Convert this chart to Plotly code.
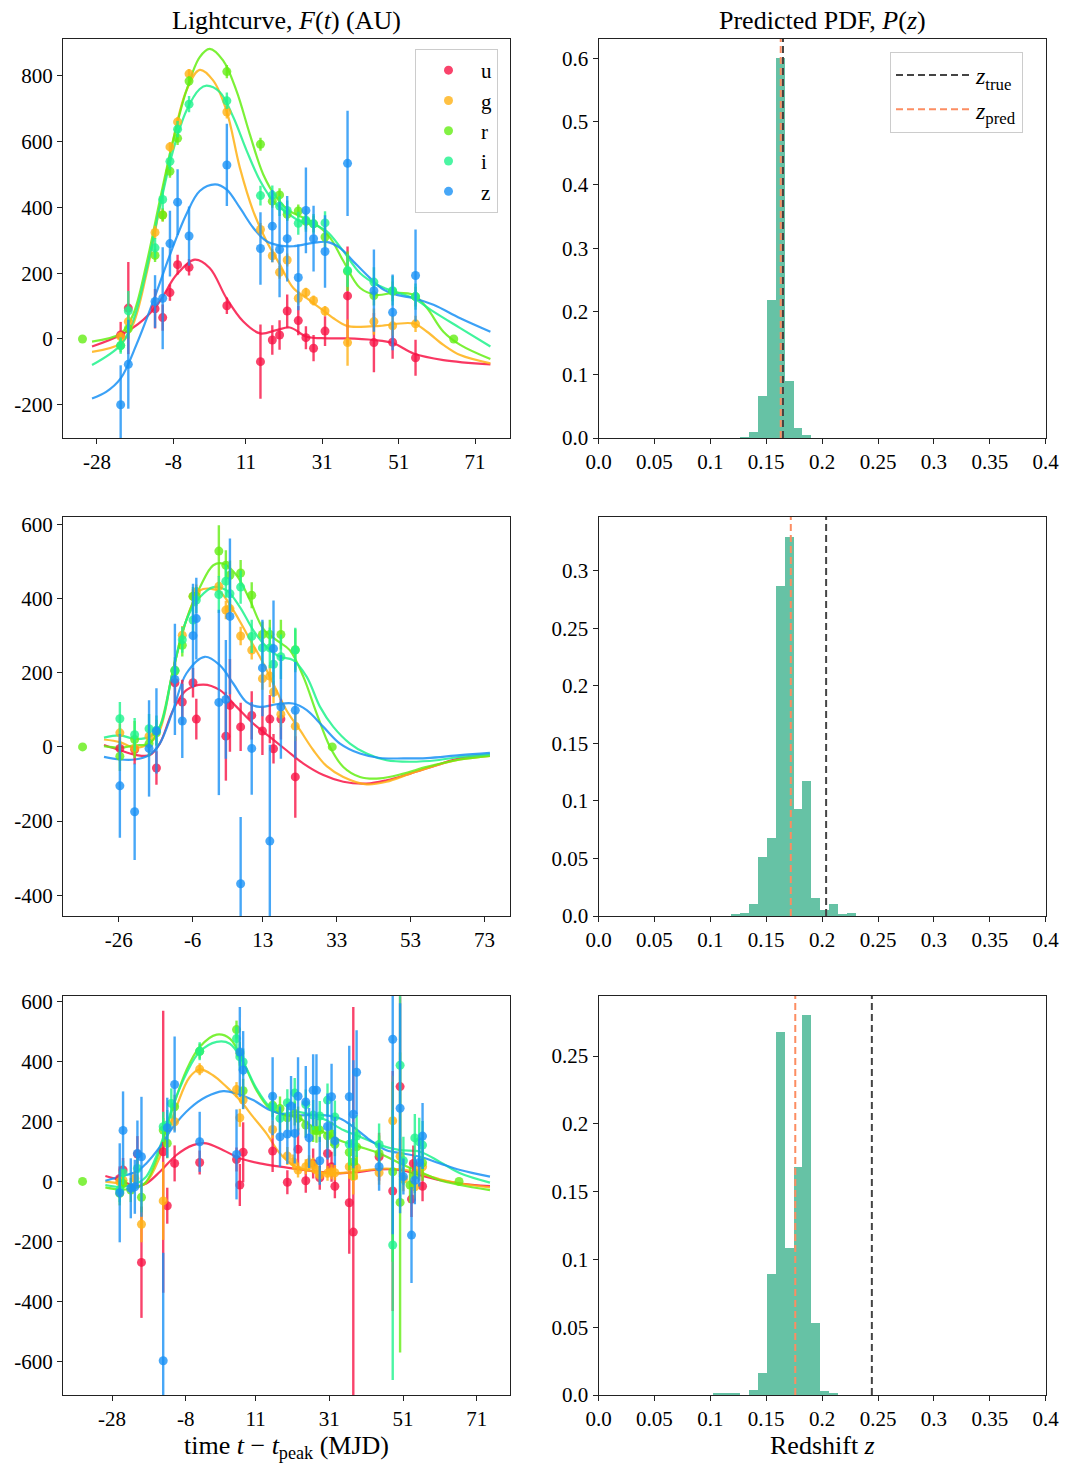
import plotly.graph_objects as go
from plotly.subplots import make_subplots

# ---------------- data ----------------
BANDS = ["u", "g", "r", "i", "z"]
BAND_COLORS = ["rgba(248,20,70,0.8)", "rgba(255,178,20,0.8)", "rgba(100,238,20,0.8)",
               "rgba(30,242,140,0.8)", "rgba(25,145,245,0.8)"]
LINE_COLORS = ["rgba(248,20,70,0.85)", "rgba(255,178,20,0.85)", "rgba(100,238,20,0.85)",
               "rgba(30,242,140,0.85)", "rgba(25,145,245,0.85)"]

# Panel 1 observations (t, flux, err)
P1_U = [(-21.8,12,40),(-19.8,94,140),(-12.8,92,60),(-10.8,65,40),(-8.9,141,25),(-6.9,226,30),(-3.9,218,25),
        (6.0,101,25),(14.8,-69,113),(17.9,-3,45),(19.8,12,45),(21.8,85,50),(24.7,56,45),(26.7,4,35),
        (28.7,-28,40),(31.7,24,45),(37.6,131,150),(44.5,-11,90),(49.4,-10,50),(55.4,-57,55)]
P1_G = [(-21.8,7,15),(-19.8,53,20),(-12.8,324,20),(-10.8,377,20),(-8.9,584,15),(-6.9,660,15),(-3.9,806,15),
        (6.0,690,20),(14.8,333,20),(17.9,253,20),(19.8,203,20),(21.8,240,20),(24.7,124,20),(26.7,141,15),
        (28.7,117,15),(31.7,85,15),(37.6,-11,70),(44.5,53,40),(49.4,40,30),(55.4,46,25)]
P1_R = [(-31.8,0,0),(-21.8,-20,20),(-19.8,31,30),(-12.8,254,20),(-10.8,377,20),(-8.9,510,20),(-6.9,610,20),
        (-3.9,784,15),(6.0,813,20),(14.8,592,20),(17.9,419,20),(19.8,438,20),(21.8,379,20),(24.7,389,20),
        (26.7,358,25),(28.7,350,25),(31.7,310,30),(37.6,206,60),(44.5,132,30),(49.4,145,30),(55.4,129,30),
        (65.4,0,0)]
P1_I = [(-21.8,-20,25),(-19.8,86,60),(-12.8,277,30),(-10.8,424,30),(-8.9,540,25),(-6.9,638,25),(-3.9,714,25),
        (6.0,724,25),(14.8,436,30),(17.9,437,30),(19.8,404,30),(21.8,391,30),(24.7,352,35),(26.7,361,35),
        (28.7,350,30),(31.7,353,35),(37.6,208,50),(44.5,173,45),(49.4,147,45),(55.4,129,40)]
P1_Z = [(-21.8,-200,120),(-19.8,-77,135),(-12.8,114,80),(-10.8,124,155),(-8.9,290,100),(-6.9,416,100),
        (-3.9,313,90),(6.0,529,125),(14.8,275,110),(17.9,343,110),(19.8,272,145),(21.8,305,130),
        (24.7,187,100),(26.7,391,130),(28.7,305,100),(31.7,266,110),(37.6,534,160),(44.5,147,125),
        (49.4,81,115),(55.4,193,140)]

# Panel 1 fitted curves (t, flux)
P1_U_FIT = [(-29.3,-23),(-21.8,12),(-15.9,58),(-11.6,114),(-7.2,195),(-2.4,241),(1.5,216),(5.9,124),(10.3,53),
            (14.7,17),(19.0,27),(22.5,35),(26.9,7),(32.1,2),(37.4,2),(44.4,-3),(49.6,-13),(54.9,-44),
            (62.7,-64),(75.0,-77)]
P1_G_FIT = [(-29.3,-39),(-21.8,-13),(-18.6,43),(-15.1,195),(-11.6,399),(-8.1,603),(-4.6,755),(-1.1,818),
            (2.4,786),(5.9,694),(9.4,521),(12.9,389),(16.4,297),(19.9,226),(23.4,155),(26.9,124),(30.4,94),
            (33.9,63),(37.4,40),(40.9,37),(46.1,40),(54.9,47),(58.4,22),(62.7,-18),(67.1,-49),(75.0,-74)]
P1_R_FIT = [(-29.3,-8),(-21.8,17),(-18.6,73),(-15.1,226),(-11.6,419),(-8.1,603),(-4.6,755),(-1.1,857),
            (1.5,882),(5.0,847),(8.5,755),(12.0,623),(15.5,501),(19.0,430),(22.5,389),(26.0,369),(29.5,348),
            (33.0,308),(36.5,237),(40.9,155),(45.3,134),(49.6,140),(54.9,134),(58.4,94),(62.7,22),
            (67.1,-18),(75.0,-61)]
P1_I_FIT = [(-29.3,-79),(-21.8,-18),(-18.6,53),(-15.1,206),(-11.6,399),(-8.1,572),(-4.6,694),(-1.1,760),
            (0.7,770),(4.2,750),(7.7,674),(11.2,572),(14.7,481),(18.2,419),(21.7,384),(25.1,358),(28.6,348),
            (32.1,328),(36.5,267),(40.9,200),(45.3,165),(49.6,145),(54.9,124),(60.1,83),(67.1,33),(75.0,-23)]
P1_Z_FIT = [(-29.3,-181),(-25.6,-161),(-21.8,-120),(-17.7,-18),(-13.3,114),(-8.9,256),(-4.6,379),(-1.1,450),
            (2.9,470),(5.9,455),(9.4,399),(12.9,338),(16.4,297),(19.9,284),(23.4,282),(28.6,292),(32.1,295),
            (35.6,277),(39.1,236),(43.5,185),(47.0,150),(50.5,134),(54.9,124),(60.1,104),(67.1,63),(75.0,22)]

# Panel 2 observations
P2_U = [(-25.7,-4,30),(-21.7,-7,40),(-15.8,-57,45),(-10.8,173,55),(-8.8,121,60),(-5.9,173,40),(-5.0,75,55),
        (3.0,29,120),(4.1,112,125),(7.0,54,65),(10.0,85,65),(12.9,43,65),(14.9,75,65),(15.9,-5,40),
        (17.9,75,55),(21.8,-81,110)]
P2_G = [(-25.7,38,25),(-21.7,-4,20),(-17.8,29,20),(-10.8,207,25),(-8.8,301,25),(-5.9,406,20),(-5.0,418,20),
        (1.1,433,25),(3.0,369,25),(4.1,373,25),(7.0,299,25),(10.0,261,25),(12.9,184,30),(14.9,191,30),
        (15.9,148,30),(17.9,88,35),(21.8,56,40)]
P2_R = [(-35.8,0,0),(-25.7,-25,40),(-21.7,20,50),(-17.8,9,35),(-15.8,38,35),(-10.8,204,30),(-8.8,274,30),
        (-5.9,406,25),(-5.0,406,25),(1.1,528,70),(3.0,490,40),(4.1,463,40),(7.0,469,35),(10.0,409,35),
        (12.9,303,35),(14.9,303,40),(17.9,303,40),(21.8,262,55),(31.8,0,0)]
P2_I = [(-25.7,76,45),(-21.7,33,45),(-17.8,49,40),(-15.8,45,40),(-10.8,207,35),(-8.8,289,35),(-5.9,342,35),
        (-5.0,396,35),(1.1,411,50),(3.0,447,45),(4.1,413,45),(7.0,431,45),(10.0,298,45),(12.9,267,50),
        (14.9,267,55),(15.9,223,55),(17.9,243,60),(21.8,261,60)]
P2_Z = [(-25.7,-105,140),(-21.7,-175,130),(-17.8,-4,130),(-15.8,43,115),(-10.8,182,150),(-8.8,70,100),
        (-5.9,300,140),(-5.0,346,110),(1.1,120,250),(3.0,128,160),(4.1,352,210),(7.0,-369,180),
        (10.0,-4,125),(12.9,213,130),(14.9,-254,260),(15.9,265,130),(17.9,108,140),(21.8,99,130)]

# Panel 2 fitted curves
P2_U_FIT = [(-30.0,5),(-25.7,-9),(-21.2,-22),(-17.6,-22),(-14.9,9),(-11.3,99),(-7.7,153),(-3.1,168),(1.4,153),
            (5.9,108),(10.4,63),(14.9,27),(19.4,-9),(24.0,-45),(29.4,-76),(34.8,-94),(41.1,-99),(46.5,-90),
            (52.9,-72),(60.1,-49),(66.4,-31),(74.5,-22)]
P2_G_FIT = [(-30.0,20),(-25.7,13),(-21.7,-2),(-17.8,9),(-14.9,45),(-11.3,207),(-7.7,342),(-4.0,422),
            (-1.3,427),(1.4,418),(5.0,369),(8.6,306),(12.2,243),(15.8,171),(19.4,99),(23.1,45),(26.7,-9),
            (30.3,-52),(34.8,-81),(41.1,-101),(46.5,-94),(52.9,-72),(60.1,-49),(66.4,-34),(74.5,-24)]
P2_R_FIT = [(-30.0,2),(-25.7,-2),(-21.7,4),(-17.8,9),(-14.9,54),(-11.3,207),(-7.7,342),(-4.0,431),(-0.4,490),
            (2.3,494),(5.9,463),(9.5,396),(13.1,319),(16.7,288),(20.3,261),(24.0,189),(27.6,90),(31.2,0),
            (34.8,-54),(39.3,-81),(44.7,-85),(51.1,-72),(57.4,-54),(66.4,-34),(74.5,-24)]
P2_I_FIT = [(-30.0,25),(-25.7,31),(-21.7,22),(-17.8,27),(-14.9,54),(-11.3,207),(-7.7,342),(-4.0,404),
            (-0.4,431),(3.2,422),(6.8,377),(10.4,315),(14.0,270),(17.6,243),(21.2,234),(24.9,189),(28.5,108),
            (32.1,54),(36.6,9),(41.1,-18),(46.5,-36),(52.9,-40),(60.1,-36),(66.4,-27),(74.5,-20)]
P2_Z_FIT = [(-30.0,-27),(-25.7,-34),(-21.7,-34),(-17.8,-22),(-14.9,9),(-11.3,99),(-7.7,198),(-2.7,243),
            (1.4,220),(5.0,171),(8.6,121),(12.2,108),(16.7,115),(21.2,117),(24.9,99),(29.4,54),(33.9,9),
            (39.3,-18),(44.7,-30),(51.1,-31),(57.4,-30),(66.4,-22),(74.5,-16)]

# Panel 3 observations
P3_U = [(-25.9,10,40),(-25.0,38,40),(-21.1,91,60),(-20.0,-270,185),(-14.1,99,470),(-13.0,-81,60),
        (-11.0,60,60),(-4.2,63,40),(5.8,73,40),(6.7,-12,70),(7.6,97,100),(15.6,101,70),(19.6,-3,40),
        (22.5,107,70),(24.6,2,40),(26.6,60,50),(28.4,12,40),(30.5,93,60),(31.6,49,50),(32.5,-16,40),
        (36.4,-71,170),(37.5,-169,750),(44.5,82,80),(48.2,-32,400),(50.2,316,300),(53.3,-59,60),
        (53.8,60,60),(56.3,-16,50)]
P3_G = [(-25.9,-1,20),(-25.0,4,20),(-21.8,10,25),(-20.0,-143,60),(-14.1,-65,130),(-11.0,199,30),
        (-4.2,374,20),(5.8,306,25),(6.7,212,30),(7.6,271,30),(15.6,173,30),(19.6,85,30),(21.2,65,25),
        (22.5,38,25),(24.6,49,25),(25.5,62,25),(26.6,54,25),(27.5,38,25),(28.4,21,25),(30.5,27,25),
        (31.6,32,25),(32.5,29,25),(36.4,49,40),(37.5,16,60),(38.4,46,40),(44.5,29,40),(48.2,202,150),
        (50.2,84,60),(51.1,7,40),(54.2,-18,40),(55.4,38,35),(56.3,49,35)]
P3_R = [(-36.0,0,0),(-25.9,-40,40),(-25.0,-7,30),(-22.9,-29,40),(-20.0,-53,50),(-14.1,171,40),(-13.0,127,50),
        (-11.0,249,40),(-4.2,434,25),(5.8,506,30),(6.7,426,40),(7.6,302,40),(15.6,254,40),(17.6,243,40),
        (19.6,212,40),(21.6,226,40),(22.5,210,40),(24.6,188,40),(26.6,171,40),(27.5,169,40),(28.4,171,40),
        (30.5,152,40),(31.6,158,40),(32.5,124,40),(36.4,97,60),(37.5,65,60),(38.4,115,60),(44.5,93,60),
        (48.2,32,300),(50.2,-70,500),(52.9,-12,60),(54.2,21,60),(56.3,62,60),(66.2,0,0)]
P3_I = [(-25.9,-29,40),(-25.0,29,40),(-21.1,43,50),(-14.1,182,50),(-13.0,188,50),(-11.9,260,50),
        (-4.2,434,30),(5.8,476,40),(6.7,415,45),(7.6,398,45),(15.6,249,45),(17.6,210,45),(19.6,262,45),
        (21.6,295,50),(24.6,256,50),(26.6,221,50),(28.4,218,50),(30.5,271,55),(32.5,215,55),(36.4,124,70),
        (37.5,127,70),(38.4,151,70),(44.5,123,70),(48.2,-212,450),(50.2,387,450),(51.1,69,80),
        (54.2,145,80),(55.4,132,80),(56.3,121,80)]
P3_Z = [(-25.9,-38,165),(-25.0,170,130),(-22.9,-23,100),(-21.8,-18,90),(-21.1,93,110),(-20.0,82,200),
        (-14.1,-598,360),(-13.0,179,100),(-11.0,323,160),(-4.2,132,100),(5.8,90,150),(6.7,431,150),
        (7.6,371,130),(15.6,284,130),(17.6,149,100),(19.6,158,100),(20.6,251,100),(21.6,160,100),
        (22.5,284,130),(24.6,265,120),(25.5,145,100),(26.6,304,120),(27.5,304,120),(28.4,69,80),
        (30.5,183,110),(31.6,282,110),(32.5,135,80),(36.4,282,170),(37.5,224,180),(38.4,364,140),
        (44.5,49,80),(48.2,474,650),(50.2,244,350),(51.1,16,60),(53.3,-179,160),(54.2,4,80),(55.4,63,80),
        (56.3,151,110)]

# Panel 3 fitted curves
P3_U_FIT = [(-29.8,18),(-25.9,4),(-21.4,-16),(-18.7,-7),(-15.0,32),(-10.5,88),(-6.0,121),(-2.4,127),(2.2,104),
            (6.7,77),(12.1,60),(17.6,49),(23.0,40),(28.4,32),(33.9,27),(39.3,32),(44.7,40),(50.2,38),
            (55.6,21),(61.0,4),(66.5,-7),(74.6,-16)]
P3_G_FIT = [(-29.8,-1),(-25.9,-7),(-21.4,-18),(-18.7,-4),(-15.0,82),(-10.5,249),(-6.9,348),(-4.2,373),
            (-0.6,354),(3.1,315),(6.7,271),(10.3,215),(13.9,160),(17.6,93),(21.2,54),(24.8,38),(30.2,27),
            (35.7,29),(41.1,38),(46.5,43),(52.0,38),(55.6,27),(61.0,7),(66.5,-7),(74.6,-20)]
P3_R_FIT = [(-29.8,-20),(-25.9,-27),(-21.4,-21),(-18.7,-1),(-15.0,104),(-11.4,249),(-7.8,371),(-4.2,448),
            (0.4,489),(4.0,476),(7.6,398),(11.2,304),(14.8,243),(18.5,221),(22.1,215),(25.7,188),(30.2,160),
            (34.8,132),(39.3,115),(44.7,93),(50.2,60),(55.6,32),(61.0,4),(66.5,-12),(74.6,-29)]
P3_I_FIT = [(-29.8,-12),(-25.9,-18),(-21.4,-7),(-18.7,16),(-15.0,115),(-11.4,254),(-7.8,360),(-4.2,432),
            (0.4,465),(4.0,459),(7.6,398),(11.2,310),(14.8,249),(18.5,226),(22.1,232),(26.6,221),(30.2,204),
            (34.8,171),(39.3,149),(44.7,121),(50.2,104),(55.6,99),(61.0,65),(66.5,27),(74.6,-4)]
P3_Z_FIT = [(-29.8,2),(-25.9,16),(-21.4,32),(-18.7,60),(-15.0,115),(-11.4,182),(-6.9,243),(-2.4,282),
            (2.2,301),(5.8,293),(10.3,271),(14.8,238),(19.4,221),(24.8,221),(29.3,221),(33.9,210),(37.5,182),
            (42.0,138),(46.5,104),(51.1,93),(55.6,82),(61.0,60),(66.5,38),(74.6,16)]

# Axis ticks for light curves
P1_XTICKS = [-28, -8, 11, 31, 51, 71]
P2_XTICKS = [-26, -6, 13, 33, 53, 73]
P3_XTICKS = [-28, -8, 11, 31, 51, 71]
P1_YTICKS = [-200, 0, 200, 400, 600, 800]
P2_YTICKS = [-400, -200, 0, 200, 400, 600]
P3_YTICKS = [-600, -400, -200, 0, 200, 400, 600]

# Histograms of predicted redshift (bin centres, probability per bin)
BIN_WIDTH = 0.008
H1_Z = [0.130, 0.138, 0.146, 0.154, 0.162, 0.170, 0.178, 0.186]
H1_P = [0.001, 0.0095, 0.066, 0.218, 0.601, 0.0905, 0.016, 0.005]
H2_Z = [0.122, 0.130, 0.138, 0.146, 0.154, 0.162, 0.170, 0.178, 0.186, 0.194, 0.202, 0.210, 0.218, 0.226]
H2_P = [0.0017, 0.0026, 0.0104, 0.0512, 0.0677, 0.2866, 0.3295, 0.0929, 0.1173, 0.0159, 0.0055, 0.0107,
        0.0009, 0.0026]
H3_Z = [0.106, 0.114, 0.122, 0.130, 0.138, 0.146, 0.154, 0.162, 0.170, 0.178, 0.186, 0.194, 0.202, 0.210]
H3_P = [0.001, 0.0017, 0.001, 0.0, 0.0034, 0.016, 0.0889, 0.2677, 0.1084, 0.168, 0.2805, 0.0534, 0.0032,
        0.0017]
H1_YTICKS = [0.0, 0.1, 0.2, 0.3, 0.4, 0.5, 0.6]
H2_YTICKS = [0.0, 0.05, 0.1, 0.15, 0.2, 0.25, 0.3]
H3_YTICKS = [0.0, 0.05, 0.1, 0.15, 0.2, 0.25]
Z_XTICKS = [0.0, 0.05, 0.1, 0.15, 0.2, 0.25, 0.3, 0.35, 0.4]
Z_TRUE = [0.165, 0.2036, 0.2445]
Z_PRED = [0.163, 0.172, 0.176]

# ---------------- figure ----------------
W, H = 1065, 1466
FONT = "Liberation Serif"
fig = make_subplots(rows=3, cols=2)

LC_RANGES_X = [[-36.9, 80.0], [-41.1, 79.8], [-41.3, 79.9]]
LC_RANGES_Y = [[-301, 912], [-456, 620], [-712, 618]]
H_RANGES_Y = [[0, 0.6305], [0, 0.3469], [0, 0.2943]]
ROW_PX = [(39, 438), (517, 916), (996, 1395)]
LEFT_PX = (63, 509.5)
RIGHT_PX = (598.5, 1045.7)

obs_sets = [[P1_U, P1_G, P1_R, P1_I, P1_Z], [P2_U, P2_G, P2_R, P2_I, P2_Z], [P3_U, P3_G, P3_R, P3_I, P3_Z]]
fit_sets = [[P1_U_FIT, P1_G_FIT, P1_R_FIT, P1_I_FIT, P1_Z_FIT],
            [P2_U_FIT, P2_G_FIT, P2_R_FIT, P2_I_FIT, P2_Z_FIT],
            [P3_U_FIT, P3_G_FIT, P3_R_FIT, P3_I_FIT, P3_Z_FIT]]
hists = [(H1_Z, H1_P), (H2_Z, H2_P), (H3_Z, H3_P)]
xticks_lc = [P1_XTICKS, P2_XTICKS, P3_XTICKS]
yticks_lc = [P1_YTICKS, P2_YTICKS, P3_YTICKS]
yticks_h = [H1_YTICKS, H2_YTICKS, H3_YTICKS]


def fmt(v):
    s = ("%g" % v)
    if s == "0":
        s = "0.0"
    return s


axis_style = dict(showgrid=False, zeroline=False, showline=True, mirror=True, linecolor="#222",
                  linewidth=1, ticks="outside", ticklen=5, tickwidth=1, tickcolor="#222",
                  automargin=False,
                  tickfont=dict(family=FONT, size=21, color="black"))

for row in range(3):
    r = row + 1
    # light-curve panel
    for b in range(5):
        fit = fit_sets[row][b]
        fig.add_trace(go.Scatter(x=[p[0] for p in fit], y=[p[1] for p in fit], mode="lines",
                                 line=dict(color=LINE_COLORS[b], width=2.2, shape="spline", smoothing=1.0),
                                 showlegend=False, hoverinfo="skip"), row=r, col=1)
    for b in range(5):
        obs = obs_sets[row][b]
        fig.add_trace(go.Scatter(x=[p[0] for p in obs], y=[p[1] for p in obs], mode="markers",
                                 marker=dict(color=BAND_COLORS[b], size=9, line=dict(width=0)),
                                 error_y=dict(type="data", array=[p[2] for p in obs], visible=True,
                                              thickness=2.4, width=0, color=BAND_COLORS[b]),
                                 name=BANDS[b], legendgroup=BANDS[b], showlegend=(row == 0),
                                 legend="legend"), row=r, col=1)
    # histogram panel
    hz, hp = hists[row]
    fig.add_trace(go.Bar(x=hz, y=hp, width=BIN_WIDTH, marker=dict(color="#66c2a5", line=dict(width=0)),
                         showlegend=False), row=r, col=2)
    top = H_RANGES_Y[row][1]
    fig.add_trace(go.Scatter(x=[Z_TRUE[row], Z_TRUE[row]], y=[0, top], mode="lines",
                             line=dict(color="#444444", width=2, dash="7px,4px"),
                             name="<i>z</i><sub>true</sub>", showlegend=(row == 0), legend="legend2"),
                  row=r, col=2)
    fig.add_trace(go.Scatter(x=[Z_PRED[row], Z_PRED[row]], y=[0, top], mode="lines",
                             line=dict(color="#fc8d62", width=2, dash="7px,4px"),
                             name="<i>z</i><sub>pred</sub>", showlegend=(row == 0), legend="legend2"),
                  row=r, col=2)

    y0, y1 = ROW_PX[row]
    ydom = [1 - y1 / H, 1 - y0 / H]
    fig.update_xaxes(axis_style, domain=[LEFT_PX[0] / W, LEFT_PX[1] / W], range=LC_RANGES_X[row],
                     tickvals=xticks_lc[row], ticktext=[str(v) for v in xticks_lc[row]], row=r, col=1)
    fig.update_yaxes(axis_style, domain=ydom, range=LC_RANGES_Y[row],
                     tickvals=yticks_lc[row], ticktext=[str(v) for v in yticks_lc[row]], row=r, col=1)
    fig.update_xaxes(axis_style, domain=[RIGHT_PX[0] / W, RIGHT_PX[1] / W], range=[0, 0.4],
                     tickvals=Z_XTICKS, ticktext=[fmt(v) for v in Z_XTICKS], row=r, col=2)
    fig.update_yaxes(axis_style, domain=ydom, range=H_RANGES_Y[row],
                     tickvals=yticks_h[row], ticktext=[fmt(v) for v in yticks_h[row]], row=r, col=2)

annots = [
    dict(text="Lightcurve, <i>F</i>(<i>t</i>) (AU)", x=(LEFT_PX[0] + LEFT_PX[1]) / 2 / W, y=1 - 4 / H, ya="top"),
    dict(text="Predicted PDF, <i>P</i>(<i>z</i>)", x=(RIGHT_PX[0] + RIGHT_PX[1]) / 2 / W, y=1 - 4 / H, ya="top"),
    dict(text="time <i>t</i> − <i>t</i><sub>peak</sub> (MJD)", x=(LEFT_PX[0] + LEFT_PX[1]) / 2 / W,
         y=1 - 1465 / H, ya="bottom"),
    dict(text="Redshift <i>z</i>", x=(RIGHT_PX[0] + RIGHT_PX[1]) / 2 / W, y=1 - 1462 / H, ya="bottom"),
]
for a in annots:
    fig.add_annotation(text=a["text"], x=a["x"], y=a["y"], xref="paper", yref="paper",
                       xanchor="center", yanchor=a["ya"], showarrow=False,
                       font=dict(family=FONT, size=26, color="black"))

fig.update_layout(
    width=W, height=H, margin=dict(l=0, r=0, t=0, b=0, autoexpand=False),
    plot_bgcolor="white", paper_bgcolor="white",
    font=dict(family=FONT, size=21, color="black"),
    bargap=0,
    legend=dict(x=415 / W, y=1 - 49 / H, xanchor="left", yanchor="top", bgcolor="white",
                bordercolor="#cccccc", borderwidth=1, font=dict(family=FONT, size=21),
                itemwidth=55, tracegroupgap=0),
    legend2=dict(x=890 / W, y=1 - 52 / H, xanchor="left", yanchor="top", bgcolor="white",
                 bordercolor="#cccccc", borderwidth=1, font=dict(family=FONT, size=24),
                 itemwidth=75),
)

fig.write_html("out.html", config={"displayModeBar": False},
               post_script="document.body.style.margin='0px';document.body.style.padding='0px';")
